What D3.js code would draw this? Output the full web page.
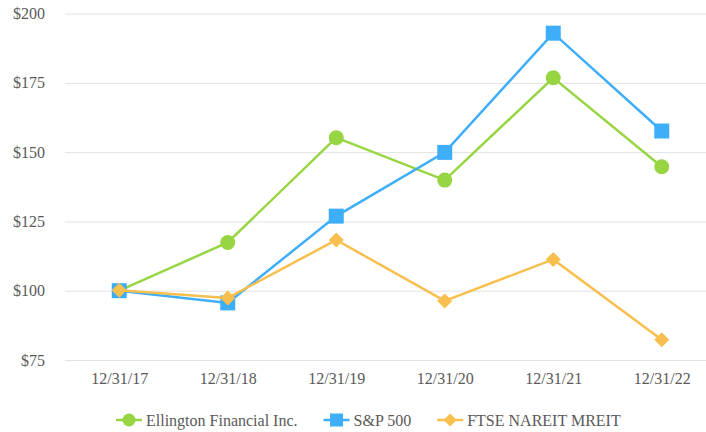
<!DOCTYPE html>
<html>
<head>
<meta charset="utf-8">
<script src="https://cdn.jsdelivr.net/npm/d3@7"></script>
<style>
  body { margin: 0; background: #fff; }
</style>
</head>
<body>
<div id="chart"></div>
<script>
const dates = ['12/31/17', '12/31/18', '12/31/19', '12/31/20', '12/31/21', '12/31/22'];
const ellington = [100, 117.4, 155.2, 139.9, 176.8, 144.7];
const sp500 = [100, 95.6, 126.9, 149.9, 192.9, 157.6];
const mreit = [100.2, 97.4, 118.3, 96.3, 111.3, 82.3];
const yTicks = [75, 100, 125, 150, 175, 200];

const series = [
  { name: 'Ellington Financial Inc.', values: ellington, color: '#97D543', shape: 'circle' },
  { name: 'S&P 500', values: sp500, color: '#3FAEFA', shape: 'square' },
  { name: 'FTSE NAREIT MREIT', values: mreit, color: '#F8BF4F', shape: 'diamond' },
];

const FONT = 'Liberation Serif, Times New Roman, serif';
const W = 706, H = 432;
const svg = d3.select('#chart').append('svg').attr('width', W).attr('height', H)
  .attr('font-family', FONT);

const x = d3.scalePoint().domain(dates).range([65, 716]).padding(0.5);
const y = d3.scaleLinear().domain([75, 200]).range([360, 13.5]);

// grid + y labels
const yAxis = svg.append('g')
  .attr('transform', 'translate(65,0)')
  .call(d3.axisLeft(y).tickValues(yTicks).tickSize(-(W - 65)).tickPadding(20).tickFormat(d => '$' + d))
  .attr('font-family', FONT).attr('font-size', 16);
yAxis.select('.domain').remove();
yAxis.selectAll('line').attr('stroke', '#E3E3E3').attr('stroke-width', 1);
yAxis.selectAll('text').attr('fill', '#595959');

// x labels
const xAxis = svg.append('g')
  .attr('transform', 'translate(0,360)')
  .call(d3.axisBottom(x).tickSize(0).tickPadding(12.5))
  .attr('font-family', FONT).attr('font-size', 16);
xAxis.select('.domain').remove();
xAxis.selectAll('text').attr('fill', '#595959');

const marker = (sel, shape, color, s) => {
  if (shape === 'circle') {
    sel.append('circle').attr('r', s / 2).attr('fill', color);
  } else if (shape === 'square') {
    sel.append('rect').attr('x', -s / 2).attr('y', -s / 2).attr('width', s).attr('height', s).attr('fill', color);
  } else {
    const h = s / 2;
    sel.append('path').attr('d', `M0,${-h}L${h},0L0,${h}L${-h},0Z`).attr('fill', color);
  }
};

const line = d3.line().x((d, i) => x(dates[i])).y(d => y(d));

series.forEach(s => {
  const g = svg.append('g');
  g.append('path').attr('d', line(s.values))
    .attr('fill', 'none').attr('stroke', s.color).attr('stroke-width', 2.5);
  s.values.forEach((v, i) => {
    const m = g.append('g').attr('transform', `translate(${x(dates[i])},${y(v)})`);
    marker(m, s.shape, s.color, 15);
  });
});

// legend
let lx = 116;
const ly = 420;
series.forEach(s => {
  const g = svg.append('g').attr('transform', `translate(${lx},${ly})`);
  g.append('line').attr('x1', 0).attr('x2', 26).attr('stroke', s.color).attr('stroke-width', 2.5);
  marker(g.append('g').attr('transform', 'translate(13,0)'), s.shape, s.color, 13);
  const t = g.append('text').attr('x', 30).attr('y', 5.5).attr('font-size', 16)
    .attr('fill', '#595959').text(s.name);
  lx += 30 + t.node().getComputedTextLength() + 26;
});
</script>
</body>
</html>
